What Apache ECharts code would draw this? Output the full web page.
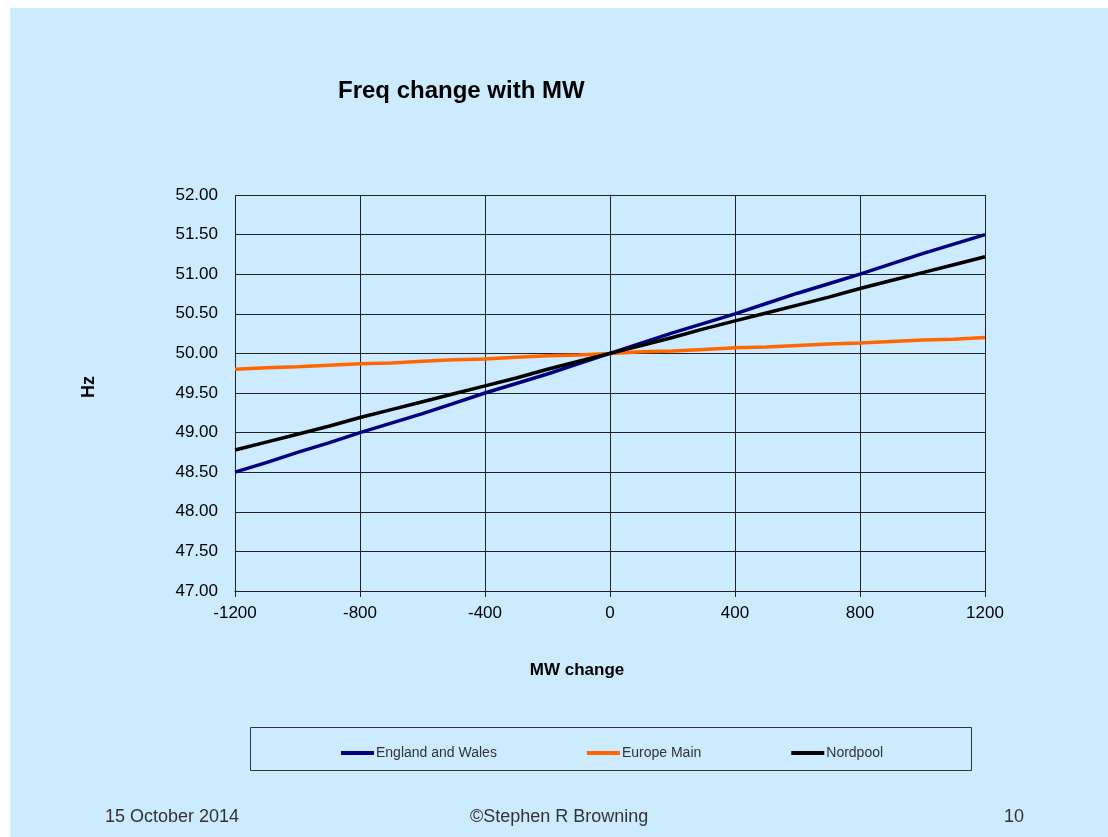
<!DOCTYPE html>
<html>
<head>
<meta charset="utf-8">
<script src="https://cdn.jsdelivr.net/npm/echarts@6/dist/echarts.min.js"></script>
<style>
html,body{margin:0;padding:0;background:#fff;}
#c{width:1108px;height:837px;}
</style>
</head>
<body>
<div id="c"></div>
<script>
const mwChange = [-1200,-1100,-1000,-900,-800,-700,-600,-500,-400,-300,-200,-100,0,100,200,300,400,500,600,700,800,900,1000,1100,1200];
const englandWales = [48.50,48.62,48.75,48.87,49.00,49.12,49.24,49.37,49.50,49.62,49.74,49.87,50.00,50.13,50.26,50.38,50.50,50.63,50.76,50.88,51.00,51.13,51.26,51.38,51.50];
const europeMain = [49.80,49.82,49.83,49.85,49.87,49.88,49.90,49.92,49.93,49.95,49.97,49.98,50.00,50.02,50.03,50.05,50.07,50.08,50.10,50.12,50.13,50.15,50.17,50.18,50.20];
const nordpool = [48.78,48.88,48.98,49.08,49.19,49.29,49.39,49.49,49.59,49.69,49.80,49.90,50.00,50.10,50.20,50.31,50.41,50.51,50.61,50.71,50.82,50.92,51.02,51.12,51.22];
const seriesNames = ['England and Wales','Europe Main','Nordpool'];
const seriesColors = ['#000080','#FF6600','#000000'];
const footerTexts = ['15 October 2014','©Stephen R Browning','10'];

const pair = arr => mwChange.map((x,i)=>[x,arr[i]]);
const font = '"Liberation Sans", Arial, sans-serif';

const chart = echarts.init(document.getElementById('c'), null, {renderer:'canvas'});
chart.setOption({
  backgroundColor:'#ffffff',
  animation:false,
  textStyle:{fontFamily:font},
  title:{
    text:'Freq change with MW',
    left:333, top:74,
    textStyle:{fontFamily:font,fontSize:24,fontWeight:'bold',color:'#000'}
  },
  graphic:[
    {type:'rect',z:-10,silent:true,shape:{x:10,y:8,width:1098,height:829},style:{fill:'#CCEBFF'}},
    {type:'rect',z:-5,silent:true,shape:{x:250.5,y:727.5,width:721,height:43},style:{fill:'none',stroke:'#333',lineWidth:1}},
    {type:'text',left:105,top:808,style:{text:footerTexts[0],font:'18px '+font,fill:'#333'}},
    {type:'text',left:470,top:808,style:{text:footerTexts[1],font:'18px '+font,fill:'#333'}},
    {type:'text',left:1004,top:808,style:{text:footerTexts[2],font:'18px '+font,fill:'#333'}}
  ],
  legend:{
    data:seriesNames,
    left:336, top:741,
    icon:'rect', itemWidth:33, itemHeight:4,
    itemGap:90,
    textStyle:{fontFamily:font,fontSize:14,color:'#333',padding:[0,0,0,-3]}
  },
  grid:{left:235,right:123,top:195,bottom:246,containLabel:false},
  xAxis:{
    type:'value', min:-1200, max:1200, interval:400,
    name:'MW change', nameLocation:'middle', nameGap:71,
    nameTextStyle:{fontFamily:font,fontSize:17,fontWeight:'bold',color:'#000',padding:[0,66,0,0]},
    axisLine:{show:true,lineStyle:{color:'#222',width:1}},
    axisTick:{show:true,length:6,lineStyle:{color:'#222'}},
    axisLabel:{fontFamily:font,fontSize:17,color:'#000',margin:14,formatter:v=>String(v)},
    splitLine:{show:true,lineStyle:{color:'#222',width:1}}
  },
  yAxis:{
    type:'value', min:47, max:52, interval:0.5,
    name:'Hz', nameLocation:'middle', nameGap:137, nameRotate:90,
    nameTextStyle:{fontFamily:font,fontSize:18,fontWeight:'bold',color:'#000',padding:[0,0,0,12]},
    axisLine:{show:true,lineStyle:{color:'#222',width:1}},
    axisTick:{show:true,length:6,lineStyle:{color:'#222'}},
    axisLabel:{fontFamily:font,fontSize:17,color:'#000',margin:17,formatter:v=>v.toFixed(2)},
    splitLine:{show:true,lineStyle:{color:'#222',width:1}}
  },
  series:[
    {name:seriesNames[0],type:'line',data:pair(englandWales),symbol:'none',color:seriesColors[0],lineStyle:{width:3.5,color:seriesColors[0]},z:3},
    {name:seriesNames[1],type:'line',data:pair(europeMain),symbol:'none',color:seriesColors[1],lineStyle:{width:3.5,color:seriesColors[1]},z:2},
    {name:seriesNames[2],type:'line',data:pair(nordpool),symbol:'none',color:seriesColors[2],lineStyle:{width:3.5,color:seriesColors[2]},z:4}
  ]
});
</script>
</body>
</html>
